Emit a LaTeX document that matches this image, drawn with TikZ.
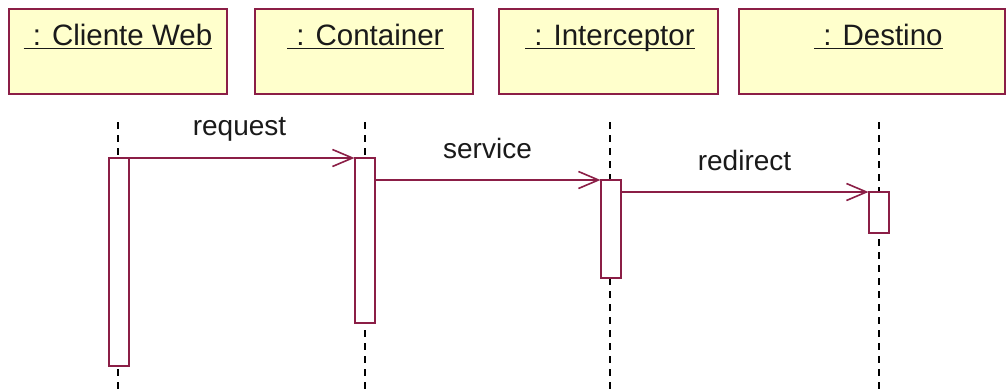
\documentclass[tikz,border=0pt]{standalone}
\usepackage{fontspec}
\setmainfont{Liberation Sans}
\usetikzlibrary{arrows.meta}
\definecolor{umlline}{HTML}{8B1E46}
\definecolor{umlfill}{HTML}{FFFFCC}
\definecolor{umltext}{HTML}{1A1A1A}
\begin{document}
\begin{tikzpicture}[x=1pt,y=-1pt,
  objbox/.style={draw=umlline, fill=umlfill, line width=2pt, minimum width=#1, minimum height=85pt, inner sep=0pt, outer sep=0pt},
  objlabel/.style={anchor=base, inner sep=0pt, text=umltext, font=\fontsize{29.5}{34}\selectfont},
  uline/.style={line width=1.6pt, umltext},
  lifeline/.style={line width=2pt, black, dash pattern=on 7pt off 6pt},
  actbox/.style={draw=umlline, fill=white, line width=2pt, minimum width=20pt, inner sep=0pt, outer sep=0pt, anchor=north},
  msg/.style={draw=umlline, line width=2pt, -{Straight Barb[length=20pt,width=17pt,line width=1.6pt]}},
  msglabel/.style={anchor=base, inner sep=0pt, text=umltext, font=\fontsize{28}{32}\selectfont}]
\useasboundingbox (0,0) rectangle (1007,391);
\fill[white] (0,0) rectangle (1007,391);

% lifelines (behind everything)
\coordinate (l1top) at (118,122); \coordinate (l1bot) at (118,391);
\coordinate (l2top) at (365,122); \coordinate (l2bot) at (365,391);
\coordinate (l3top) at (610,122); \coordinate (l3bot) at (610,391);
\coordinate (l4top) at (879,122); \coordinate (l4bot) at (879,391);
\draw[lifeline] (l1top) -- (l1bot);
\draw[lifeline] (l2top) -- (l2bot);
\draw[lifeline] (l3top) -- (l3bot);
\draw[lifeline] (l4top) -- (l4bot);

% object boxes
\node[objbox=218pt] (o1) at (118,51.5) {};
\node[objbox=218pt] (o2) at (364,51.5) {};
\node[objbox=219pt] (o3) at (608.5,51.5) {};
\node[objbox=266pt] (o4) at (872,51.5) {};

% object names (underlined)
\node[objlabel] (t1) at (118,45) {\hspace{9pt}:\hspace{11pt}Cliente Web};
\node[objlabel] (t2) at (365.5,45) {\hspace{9pt}:\hspace{11pt}Container};
\node[objlabel] (t3) at (610,45) {\hspace{9pt}:\hspace{11pt}Interceptor};
\node[objlabel] (t4) at (878.5,45) {\hspace{9pt}:\hspace{11pt}Destino};
\foreach \t in {t1,t2,t3,t4}
  \draw[uline] ([yshift=-3.5pt]\t.base west) -- ([yshift=-3.5pt]\t.base east);

% activation bars
\node[actbox, minimum height=208pt] (a1) at (119,158) {};
\node[actbox, minimum height=165pt] (a2) at (364.5,158) {};
\node[actbox, minimum height=98pt] (a3) at (610.5,180) {};
\node[actbox, minimum height=41pt] (a4) at (878.5,192) {};

% messages
\draw[msg] (a1.north east) -- (a2.north west);
\draw[msg] ([yshift=-22pt]a2.north east) -- (a3.north west);
\draw[msg] ([yshift=-12pt]a3.north east) -- (a4.north west);

% message labels
\node[msglabel] (m1) at (239.5,135) {request};
\node[msglabel] (m2) at (487.5,158) {service};
\node[msglabel] (m3) at (744.5,170) {redirect};
\end{tikzpicture}
\end{document}
